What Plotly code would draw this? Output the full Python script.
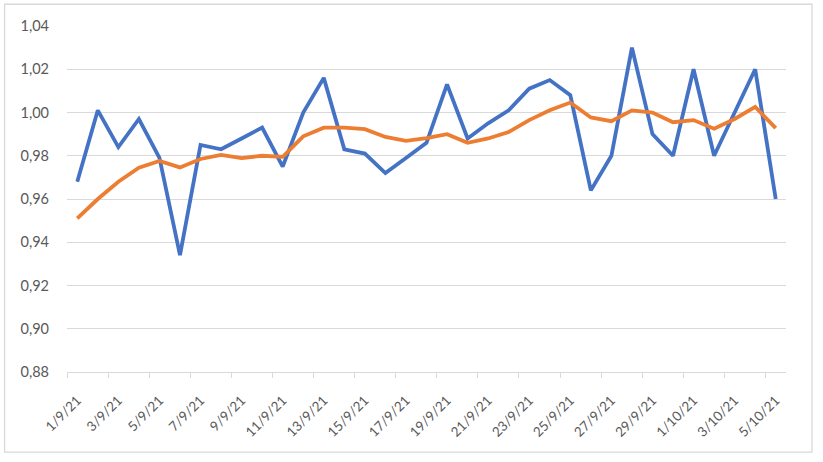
import plotly.graph_objects as go

dates = ["1/9/21", "2/9/21", "3/9/21", "4/9/21", "5/9/21", "6/9/21", "7/9/21",
         "8/9/21", "9/9/21", "10/9/21", "11/9/21", "12/9/21", "13/9/21", "14/9/21",
         "15/9/21", "16/9/21", "17/9/21", "18/9/21", "19/9/21", "20/9/21", "21/9/21",
         "22/9/21", "23/9/21", "24/9/21", "25/9/21", "26/9/21", "27/9/21", "28/9/21",
         "29/9/21", "30/9/21", "1/10/21", "2/10/21", "3/10/21", "4/10/21", "5/10/21"]

blue = [0.968, 1.001, 0.984, 0.997, 0.979, 0.934, 0.985, 0.983, 0.988, 0.993,
        0.975, 1.000, 1.016, 0.983, 0.981, 0.972, 0.979, 0.986, 1.013, 0.988,
        0.995, 1.001, 1.011, 1.015, 1.008, 0.964, 0.980, 1.030, 0.990, 0.980,
        1.020, 0.980, 1.000, 1.020, 0.960]

orange = [0.951, 0.960, 0.968, 0.9745, 0.9776, 0.9746, 0.9785, 0.9804, 0.9789, 0.980,
          0.9795, 0.989, 0.993, 0.993, 0.9923, 0.9887, 0.9869, 0.9882, 0.990, 0.986,
          0.988, 0.991, 0.9965, 1.001, 1.0046, 0.9977, 0.996, 1.001, 1.000, 0.9955,
          0.9965, 0.9925, 0.997, 1.0026, 0.9928]

y_ticks = [0.88, 0.90, 0.92, 0.94, 0.96, 0.98, 1.00, 1.02, 1.04]

idx = list(range(len(dates)))
label_idx = idx[::2]
label_txt = dates[::2]
boundaries = [i - 0.5 for i in idx[::2]]

TEXT = "#595959"
GRID = "#d9d9d9"
FONT = "Lato"

fig = go.Figure()
fig.add_trace(go.Scatter(x=idx, y=blue, mode="lines",
                         line=dict(color="#4472C4", width=3.8), hoverinfo="skip"))
fig.add_trace(go.Scatter(x=idx, y=orange, mode="lines",
                         line=dict(color="#ED7D31", width=3.8), hoverinfo="skip"))
# invisible trace to carry the tick-mark axis
fig.add_trace(go.Scatter(x=[idx[0]], y=[y_ticks[0]], xaxis="x2", mode="markers",
                         marker=dict(opacity=0), hoverinfo="skip", showlegend=False))

xr = [-0.5, len(dates) - 0.5]
fig.update_layout(
    width=823, height=462, autosize=False,
    margin=dict(l=67, r=37, t=26, b=90),
    paper_bgcolor="white", plot_bgcolor="white",
    showlegend=False,
    separators=",.",
    font=dict(family=FONT, color=TEXT, size=14),
    xaxis=dict(range=xr, tickmode="array", tickvals=label_idx, ticktext=label_txt,
               tickangle=-45, showgrid=False, zeroline=False,
               showline=True, linecolor=GRID, linewidth=1.3,
               ticks="", ticklabelstandoff=14,
               tickfont=dict(family=FONT, color=TEXT, size=13.5)),
    xaxis2=dict(range=xr, overlaying="x", side="bottom", tickmode="array",
                tickvals=boundaries, showticklabels=False, ticks="outside",
                ticklen=5, tickcolor=GRID, tickwidth=1.3, showgrid=False,
                zeroline=False, showline=False, anchor="y"),
    yaxis=dict(range=[0.88, 1.04], tickmode="array", tickvals=y_ticks,
               tickformat=".2f", showgrid=True, gridcolor=GRID, gridwidth=1.3,
               zeroline=False, showline=False, ticks="", ticklabelstandoff=17,
               tickfont=dict(family=FONT, color=TEXT, size=14.5)),
    shapes=[dict(type="rect", xref="paper", yref="paper",
                 x0=-0.0868, x1=1.0362, y0=-0.2314, y1=1.0628,
                 line=dict(color=GRID, width=1.3), fillcolor="rgba(0,0,0,0)",
                 layer="below")],
)

fig.write_html("out.html", config={"displayModeBar": False},
               post_script="document.body.style.margin='0';document.body.style.padding='0';")
